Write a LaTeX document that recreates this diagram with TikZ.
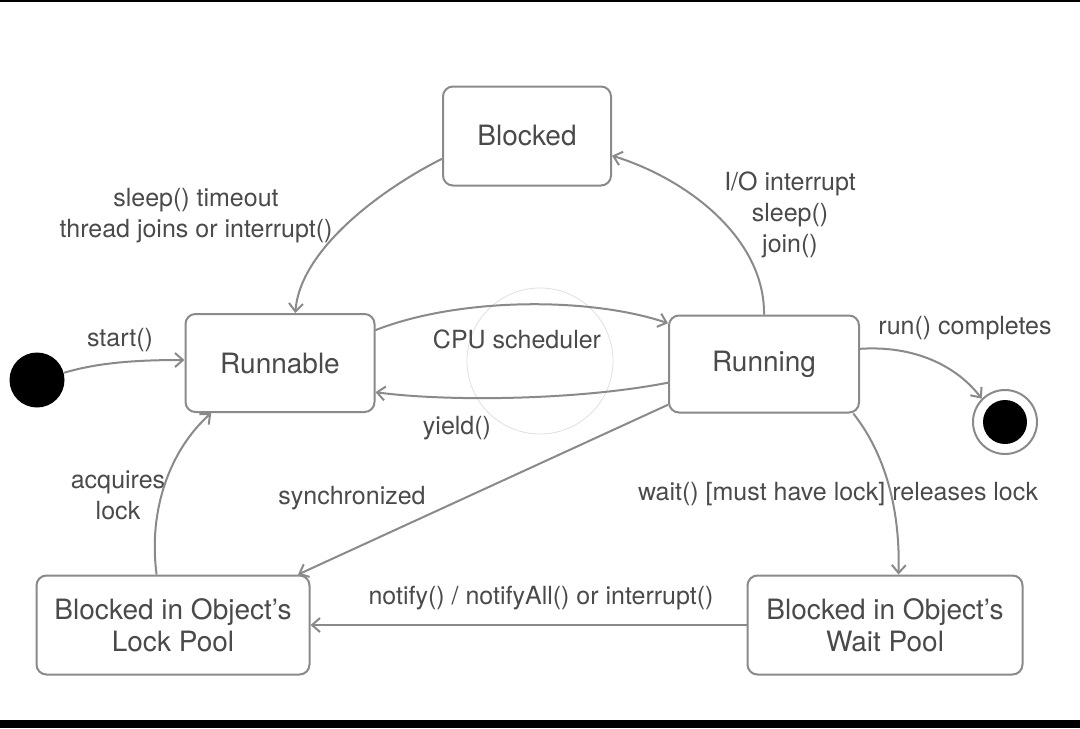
\documentclass[tikz,border=0pt]{standalone}
\usepackage{fontspec}
\setmainfont{TeX Gyre Heros}
\usetikzlibrary{arrows.meta}
\definecolor{linegray}{HTML}{8A8A8A}
\definecolor{textgray}{HTML}{4A4A4A}
\begin{document}
\begin{tikzpicture}[x=0.5pt, y=-0.5pt,
  state/.style={draw=linegray, line width=1pt, rounded corners=5pt, text=textgray, font=\fontsize{14}{16}\selectfont, align=center, inner sep=0pt},
  trans/.style={draw=linegray, line width=1pt, -{Straight Barb[length=4pt, width=7pt]}},
  lbl/.style={text=textgray, font=\fontsize{12.5}{15.5}\selectfont, align=center, inner sep=0pt}]
\useasboundingbox (0,0) rectangle (1080,728);
\fill[white] (0,0) rectangle (1080,728);
\fill[black] (0,0) rectangle (1080,2);
\fill[black] (0,720) rectangle (1080,728);
\draw[black!12, line width=0.4pt] (540,361) circle[radius=36.5pt];
\node[state, minimum width=84pt, minimum height=49.5pt] (blocked) at (527,136) {Blocked};
\node[state, minimum width=94.5pt, minimum height=49pt] (runnable) at (280,363) {Runnable};
\node[state, minimum width=95pt, minimum height=48.5pt] (running) at (764,364) {Running};
\node[state, minimum width=136.5pt, minimum height=49.5pt] (lockpool) at (173,625) {Blocked in Object’s\\Lock Pool};
\node[state, minimum width=137.5pt, minimum height=49.5pt] (waitpool) at (885,625) {Blocked in Object’s\\Wait Pool};
\node[circle, fill=black, minimum size=27.5pt, inner sep=0pt] (init) at (37,380) {};
\node[circle, draw=linegray, line width=1pt, fill=white, minimum size=32pt, inner sep=0pt] (final) at (1005,422) {};
\node[circle, fill=black, minimum size=22pt, inner sep=0pt] (finaldot) at (1005,422) {};
\node[lbl] (lstart) at (120,340) {start()};
\node[lbl] (lsleep) at (196,216) {sleep() timeout\\thread joins or interrupt()};
\node[lbl] (lio) at (790,215) {I/O interrupt\\sleep()\\join()};
\node[lbl] (lcpu) at (517,339) {CPU scheduler};
\node[lbl] (lyield) at (457,428) {yield()};
\node[lbl] (lrun) at (965,328) {run() completes};
\node[lbl] (lsync) at (352,498) {synchronized};
\node[lbl] (lacq) at (118,495) {acquires\\lock};
\node[lbl] (lwait) at (838,494) {wait() [must have lock] releases lock};
\node[lbl] (lnotify) at (541,598) {notify() / notifyAll() or interrupt()};
\draw[trans] (init.15) .. controls (100,362) and (140,360) .. (runnable.west |- 0,360);
\draw[trans] (blocked.195) .. controls (380,190) and (300,250) .. (runnable.73);
\draw[trans] (running.north) .. controls (765,240) and (690,180) .. (blocked.347);
\draw[trans] (runnable.19) .. controls (460,297) and (590,297) .. (running.157);
\draw[trans] (running.191) .. controls (580,400) and (450,402) .. (runnable.343);
\draw[trans] (running.9) .. controls (920,345) and (960,370) .. (final.135);
\draw[trans] (running.203) -- (lockpool.22);
\draw[trans] (lockpool.108) .. controls (148,510) and (170,450) .. (runnable.216);
\draw[trans] (running.331) .. controls (890,460) and (900,520) .. (waitpool.75);
\draw[trans] (waitpool.west) -- (lockpool.east);
\end{tikzpicture}
\end{document}
